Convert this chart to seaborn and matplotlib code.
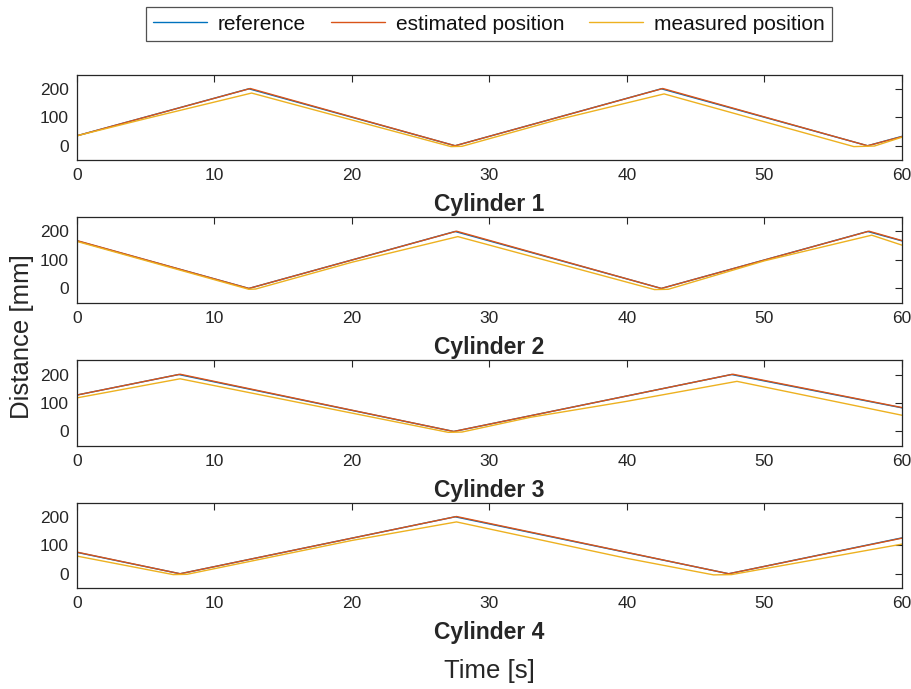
import matplotlib
matplotlib.use("Agg")
import matplotlib.pyplot as plt
import seaborn as sns
import pandas as pd

# Breakpoints (time [s], distance [mm]) of each trajectory, per cylinder
ref_t = {
    1: [0, 12.5, 27.5, 42.5, 57.5, 60],
    2: [0, 12.5, 27.5, 42.5, 57.5, 60],
    3: [0, 7.4, 27.4, 47.6, 60],
    4: [0, 7.5, 27.5, 47.4, 60],
}
ref_y = {
    1: [35, 200, 0, 200, 0, 33],
    2: [167, 0, 200, 0, 200, 167],
    3: [128, 200, 0, 200, 83],
    4: [75, 0, 200, 0, 126],
}
est_t = {
    1: [0, 12.6, 27.5, 42.6, 57.5, 60],
    2: [0, 12.5, 27.6, 42.5, 57.6, 60],
    3: [0, 7.5, 27.4, 47.7, 60],
    4: [0, 7.5, 27.6, 47.4, 60],
}
est_y = {
    1: [35, 201, 0, 201, 0, 32],
    2: [168, 0, 201, 0, 201, 168],
    3: [128, 201, 0, 201, 84],
    4: [76, 0, 201, 0, 125],
}
meas_t = {
    1: [0, 5, 12.7, 27.2, 28.0, 35, 42.7, 56.5, 58.0, 60],
    2: [0, 12.5, 13.0, 20, 27.7, 42.0, 43.0, 50, 57.8, 60],
    3: [0, 7.5, 27.0, 28.0, 33, 40, 48, 60],
    4: [0, 7.0, 8.0, 20, 27.6, 40, 46.3, 47.6, 60],
}
meas_y = {
    1: [35, 95, 185, -3, -2, 92, 182, -3, -1, 30],
    2: [165, -3, -2, 92, 182, -4, -3, 97, 187, 152],
    3: [118, 185, -3, -2, 50, 106, 176, 57],
    4: [62, -3, -2, 117, 182, 54, -4, -3, 104],
}

series_names = ["reference", "estimated position", "measured position"]
colors = ["#0072BD", "#D95319", "#EDB120"]
x_ticks = [0, 10, 20, 30, 40, 50, 60]
y_ticks = [0, 100, 200]

sns.set_theme(style="white")
plt.rcParams["font.family"] = ["Liberation Sans", "DejaVu Sans"]
text_col = "#262626"

fig = plt.figure(figsize=(9.12, 6.89), dpi=100)
left, width, height = 0.0844, 0.9046, 0.1240
bottoms = [0.7678, 0.5607, 0.3531, 0.1466]

handles = None
for i, cyl in enumerate([1, 2, 3, 4]):
    ax = fig.add_axes([left, bottoms[i], width, height])
    frames = []
    for name, tt, yy in zip(series_names,
                            [ref_t[cyl], est_t[cyl], meas_t[cyl]],
                            [ref_y[cyl], est_y[cyl], meas_y[cyl]]):
        frames.append(pd.DataFrame({"t": tt, "y": yy, "series": name}))
    df = pd.concat(frames, ignore_index=True)
    sns.lineplot(data=df, x="t", y="y", hue="series", hue_order=series_names,
                 palette=colors, estimator=None, sort=False, linewidth=1.0,
                 ax=ax, legend=(i == 0))
    if i == 0:
        handles, labels = ax.get_legend_handles_labels()
        ax.get_legend().remove()
    ax.set_xlim(0, 60)
    ax.set_ylim(-50, 250)
    ax.set_xticks(x_ticks)
    ax.set_yticks(y_ticks)
    ax.tick_params(direction="in", length=5, width=0.8, colors=text_col,
                   labelsize=12.5, top=True, right=True,
                   labelcolor=text_col, pad=6)
    for s in ax.spines.values():
        s.set_color(text_col)
        s.set_linewidth(0.9)
    ax.set_ylabel("")
    ax.set_xlabel(f"Cylinder {cyl}", fontsize=16.5, fontweight="bold",
                  color=text_col, labelpad=7)

fig.text(0.024, 0.512, "Distance [mm]", rotation=90, ha="center",
         va="center", fontsize=18.5, color=text_col)
fig.text(0.537, 0.026, "Time [s]", ha="center", va="center",
         fontsize=18.5, color=text_col)

leg_font = {"family": ["Liberation Sans Narrow", "Liberation Sans"],
            "size": 15}
leg = fig.legend(handles, series_names, loc="center", ncol=3,
                 bbox_to_anchor=(0.536, 0.965), prop=leg_font, frameon=True,
                 fancybox=False, edgecolor=text_col, handlelength=2.6,
                 columnspacing=1.2, handletextpad=0.5, borderpad=0.35)
leg.get_frame().set_linewidth(0.9)
for t in leg.get_texts():
    t.set_color("#111111")

fig.savefig("out.png", dpi=100)
